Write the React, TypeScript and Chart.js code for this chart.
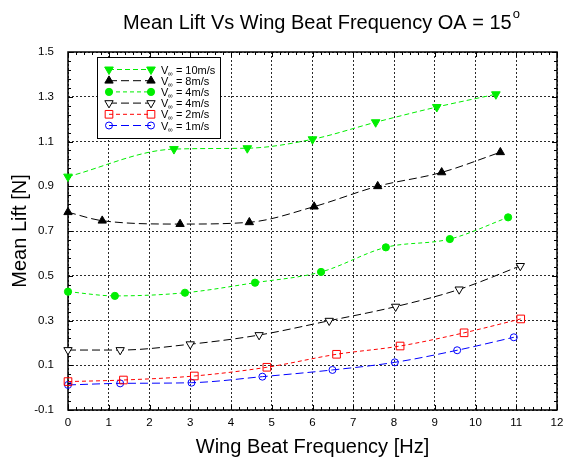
import React, { useEffect, useRef } from 'react';
import { Chart, registerables } from 'chart.js';

Chart.register(...registerables);

const FONT = "'Liberation Sans', Arial, Helvetica, sans-serif";

const titleText = 'Mean Lift Vs Wing Beat Frequency OA = 15';
const titleSup = 'o';
const xLabel = 'Wing Beat Frequency [Hz]';
const yLabel = 'Mean Lift [N]';

const xTicks = [0, 1, 2, 3, 4, 5, 6, 7, 8, 9, 10, 11, 12];
const yTicks = [-0.1, 0.1, 0.3, 0.5, 0.7, 0.9, 1.1, 1.3, 1.5];

const freq10 = [0, 2.6, 4.4, 6.0, 7.55, 9.05, 10.5];
const lift10 = [0.943, 1.066, 1.07, 1.11, 1.186, 1.254, 1.311];

const freq8 = [0, 0.84, 2.75, 4.45, 6.04, 7.6, 9.17, 10.61];
const lift8 = [0.784, 0.746, 0.731, 0.739, 0.809, 0.9, 0.962, 1.052];

const freq4a = [0, 1.15, 2.87, 4.59, 6.21, 7.8, 9.37, 10.8];
const lift4a = [0.429, 0.41, 0.424, 0.469, 0.517, 0.627, 0.664, 0.761];

const freq4b = [0, 1.28, 3.0, 4.69, 6.41, 8.04, 9.6, 11.1];
const lift4b = [0.168, 0.168, 0.194, 0.235, 0.299, 0.362, 0.439, 0.544];

const freq2 = [0, 1.36, 3.1, 4.88, 6.59, 8.15, 9.72, 11.11];
const lift2 = [0.027, 0.034, 0.052, 0.091, 0.149, 0.186, 0.245, 0.307];

const freq1 = [0, 1.28, 3.03, 4.77, 6.49, 8.02, 9.55, 10.94];
const lift1 = [0.012, 0.019, 0.022, 0.049, 0.079, 0.113, 0.167, 0.225];

const speedLabels = ['10m/s', '8m/s', '4m/s', '4m/s', '2m/s', '1m/s'];

const GREEN = '#00ee00';

const seriesStyles = [
  { color: GREEN, fill: GREEN, style: 'triangle', rotation: 180, radius: 5, dash: [5, 3] },
  { color: '#000000', fill: '#000000', style: 'triangle', rotation: 0, radius: 4.8, dash: [8, 4] },
  { color: GREEN, fill: GREEN, style: 'circle', rotation: 0, radius: 3.6, dash: [4, 3] },
  { color: '#000000', fill: '#ffffff', style: 'triangle', rotation: 180, radius: 4.8, dash: [8, 4] },
  { color: '#ff0000', fill: 'rgba(0,0,0,0)', style: 'rect', rotation: 0, radius: 5.4, dash: [4, 3] },
  { color: '#0000ff', fill: 'rgba(0,0,0,0)', style: 'circle', rotation: 0, radius: 3.5, dash: [8, 4] },
];

const seriesData = [
  [freq10, lift10],
  [freq8, lift8],
  [freq4a, lift4a],
  [freq4b, lift4b],
  [freq2, lift2],
  [freq1, lift1],
];

function drawMarker(ctx: CanvasRenderingContext2D, s: any, x: number, y: number) {
  ctx.save();
  ctx.setLineDash([]);
  ctx.lineWidth = 1;
  ctx.strokeStyle = s.color;
  ctx.fillStyle = s.fill;
  ctx.beginPath();
  const r = s.radius;
  if (s.style === 'circle') {
    ctx.arc(x, y, r, 0, Math.PI * 2);
  } else if (s.style === 'rect') {
    const h = r / Math.SQRT2;
    ctx.rect(x - h, y - h, 2 * h, 2 * h);
  } else {
    let rad = (s.rotation * Math.PI) / 180;
    ctx.moveTo(x + Math.sin(rad) * r, y - Math.cos(rad) * r);
    rad += (2 * Math.PI) / 3;
    ctx.lineTo(x + Math.sin(rad) * r, y - Math.cos(rad) * r);
    rad += (2 * Math.PI) / 3;
    ctx.lineTo(x + Math.sin(rad) * r, y - Math.cos(rad) * r);
    ctx.closePath();
  }
  ctx.fill();
  ctx.stroke();
  ctx.restore();
}

const framePlugin = {
  id: 'matlabFrame',
  beforeDatasetsDraw(chart: any) {
    const { ctx, chartArea } = chart;
    const xs = chart.scales.x;
    const ys = chart.scales.y;
    const { left, right, top, bottom } = chartArea;
    ctx.save();
    ctx.setLineDash([]);
    ctx.strokeStyle = '#000';
    ctx.lineWidth = 1;
    ctx.beginPath();
    for (let k = 0; k <= 60; k++) {
      const v = k / 5;
      const px = Math.round(xs.getPixelForValue(v)) + 0.5;
      const len = k % 5 === 0 ? 5 : 3;
      ctx.moveTo(px, bottom);
      ctx.lineTo(px, bottom - len);
      ctx.moveTo(px, top);
      ctx.lineTo(px, top + len);
    }
    for (let k = 0; k <= 40; k++) {
      const v = -0.1 + k * 0.04;
      const py = Math.round(ys.getPixelForValue(v)) + 0.5;
      const len = k % 5 === 0 ? 5 : 3;
      ctx.moveTo(left, py);
      ctx.lineTo(left + len, py);
      ctx.moveTo(right, py);
      ctx.lineTo(right - len, py);
    }
    ctx.stroke();
    ctx.lineWidth = 1.5;
    ctx.strokeRect(Math.round(left), Math.round(top), Math.round(right - left), Math.round(bottom - top));
    ctx.restore();
  },
  afterDraw(chart: any) {
    const { ctx, chartArea } = chart;
    ctx.save();
    ctx.fillStyle = '#000';
    // Title
    ctx.font = `20px ${FONT}`;
    ctx.textBaseline = 'alphabetic';
    ctx.textAlign = 'left';
    const tw = ctx.measureText(titleText).width;
    ctx.font = `13px ${FONT}`;
    const sw = ctx.measureText(titleSup).width;
    const tx = 321.5 - (tw + sw + 1) / 2;
    ctx.font = `20px ${FONT}`;
    ctx.fillText(titleText, tx, 29);
    ctx.font = `13px ${FONT}`;
    ctx.fillText(titleSup, tx + tw + 1, 18);

    // Axis titles
    ctx.font = `20px ${FONT}`;
    ctx.textAlign = 'center';
    ctx.textBaseline = 'middle';
    ctx.fillText(xLabel, (chartArea.left + chartArea.right) / 2, 447);
    ctx.save();
    ctx.translate(20, (chartArea.top + chartArea.bottom) / 2);
    ctx.rotate(-Math.PI / 2);
    ctx.fillText(yLabel, 0, 0);
    ctx.restore();

    // Legend
    const bx = 97.5, by = 57.5, bw = 123, bh = 81;
    ctx.fillStyle = '#fff';
    ctx.fillRect(bx, by, bw, bh);
    ctx.strokeStyle = '#000';
    ctx.lineWidth = 1;
    ctx.setLineDash([]);
    ctx.strokeRect(bx, by, bw, bh);
    for (let i = 0; i < speedLabels.length; i++) {
      const s = seriesStyles[i];
      const y = 69.5 + i * 11.2;
      ctx.save();
      ctx.strokeStyle = s.color;
      ctx.lineWidth = 1;
      ctx.setLineDash(s.dash);
      ctx.beginPath();
      ctx.moveTo(109, y);
      ctx.lineTo(151, y);
      ctx.stroke();
      ctx.restore();
      drawMarker(ctx, s, 109, y);
      drawMarker(ctx, s, 151, y);
      ctx.fillStyle = '#000';
      ctx.textAlign = 'left';
      ctx.textBaseline = 'alphabetic';
      ctx.font = `11px ${FONT}`;
      ctx.fillText('V', 161, y + 4);
      const vw = ctx.measureText('V').width;
      ctx.font = `7px ${FONT}`;
      ctx.fillText('\u221E', 161 + vw - 0.5, y + 6);
      const iw = ctx.measureText('\u221E').width;
      ctx.font = `11px ${FONT}`;
      ctx.fillText(' = ' + speedLabels[i], 161 + vw + iw - 0.5, y + 4);
    }
    ctx.restore();
  },
};

export default function App() {
  const ref = useRef<HTMLCanvasElement>(null);
  useEffect(() => {
    const canvas = ref.current;
    if (!canvas) return;
    const datasets = seriesData.map(([xs, ys], i) => {
      const s = seriesStyles[i];
      return {
        label: 'V\u221E = ' + speedLabels[i],
        data: xs.map((x, j) => ({ x, y: ys[j] })),
        borderColor: s.color,
        backgroundColor: s.fill,
        borderWidth: 1,
        borderDash: s.dash,
        pointStyle: s.style,
        rotation: s.rotation,
        pointRadius: s.radius,
        pointBorderWidth: 1,
        pointBorderColor: s.color,
        pointBackgroundColor: s.fill,
        cubicInterpolationMode: 'monotone',
        fill: false,
        clip: false,
      };
    });
    const chart = new Chart(canvas, {
      type: 'line',
      data: { datasets } as any,
      options: {
        animation: false,
        responsive: false,
        devicePixelRatio: 1,
        layout: { padding: { left: 0, top: 52, right: 14, bottom: 0 } },
        plugins: { legend: { display: false }, title: { display: false }, tooltip: { enabled: false } },
        scales: {
          x: {
            type: 'linear',
            min: 0,
            max: 12,
            afterBuildTicks: (scale: any) => {
              scale.ticks = xTicks.map((v) => ({ value: v }));
            },
            afterFit: (scale: any) => {
              scale.height = 53;
            },
            ticks: {
              color: '#000',
              font: { family: FONT, size: 11.5 },
              padding: 6,
              maxRotation: 0,
              callback: (v: any) => String(v),
            },
            grid: { color: '#2a2a2a', lineWidth: 1, drawTicks: false },
            border: { display: false, dash: [2, 2] },
          },
          y: {
            type: 'linear',
            min: -0.1,
            max: 1.5,
            afterBuildTicks: (scale: any) => {
              scale.ticks = yTicks.map((v) => ({ value: v }));
            },
            afterFit: (scale: any) => {
              scale.width = 68;
            },
            ticks: {
              color: '#000',
              font: { family: FONT, size: 11.5 },
              padding: 14,
              callback: (v: any) => Number(v).toFixed(1),
            },
            grid: { color: '#2a2a2a', lineWidth: 1, drawTicks: false },
            border: { display: false, dash: [2, 2] },
          },
        },
      } as any,
      plugins: [framePlugin],
    });
    return () => chart.destroy();
  }, []);
  return (
    <div style={{ position: 'absolute', left: 0, top: 0, width: 571, height: 463, background: '#fff' }}>
      <canvas ref={ref} width={571} height={463} style={{ display: 'block' }} />
    </div>
  );
}
